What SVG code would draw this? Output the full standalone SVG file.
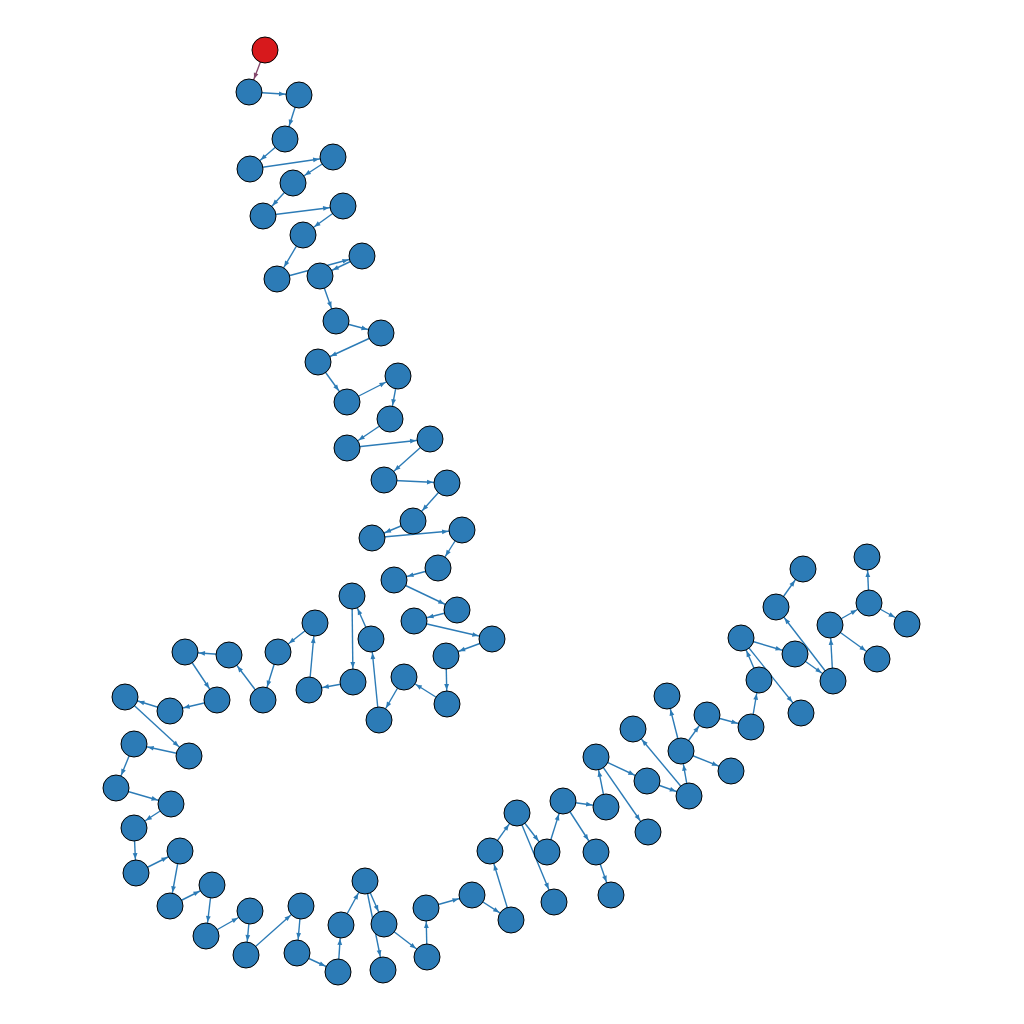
<svg xmlns="http://www.w3.org/2000/svg" width="1024" height="1024" viewBox="0 0 1024 1024">
<style>
.n{fill:#2c7bb6;stroke:#000;stroke-width:1}
.r{fill:#d7191c;stroke:#000;stroke-width:1}
.e{stroke:#2c7bb6;stroke-width:1.4;fill:none;marker-end:url(#ah)}
.er{stroke:#85476b;stroke-width:1.4;fill:none;marker-end:url(#ahr)}
</style>
<defs>
<marker id="ah" markerUnits="userSpaceOnUse" markerWidth="10" markerHeight="10" refX="20" refY="0" orient="auto" overflow="visible"><path d="M0,-2.4 L6,0 L0,2.4 z" fill="#2c7bb6"/></marker>
<marker id="ahr" markerUnits="userSpaceOnUse" markerWidth="10" markerHeight="10" refX="20" refY="0" orient="auto" overflow="visible"><path d="M0,-2.4 L6,0 L0,2.4 z" fill="#85476b"/></marker>
</defs>
<rect width="1024" height="1024" fill="#fff"/>
<g id="edges">
<line class="er" x1="265" y1="50" x2="249" y2="92"/>
<line class="e" x1="249" y1="92" x2="299" y2="95"/>
<line class="e" x1="299" y1="95" x2="285" y2="139"/>
<line class="e" x1="285" y1="139" x2="250" y2="169"/>
<line class="e" x1="250" y1="169" x2="333" y2="157"/>
<line class="e" x1="333" y1="157" x2="293" y2="183"/>
<line class="e" x1="293" y1="183" x2="263" y2="216"/>
<line class="e" x1="263" y1="216" x2="343" y2="206"/>
<line class="e" x1="343" y1="206" x2="303" y2="235"/>
<line class="e" x1="303" y1="235" x2="277" y2="279"/>
<line class="e" x1="277" y1="279" x2="362" y2="256"/>
<line class="e" x1="362" y1="256" x2="320" y2="276"/>
<line class="e" x1="320" y1="276" x2="336" y2="321"/>
<line class="e" x1="336" y1="321" x2="381" y2="333"/>
<line class="e" x1="381" y1="333" x2="318" y2="362"/>
<line class="e" x1="318" y1="362" x2="347" y2="402"/>
<line class="e" x1="347" y1="402" x2="398" y2="376"/>
<line class="e" x1="398" y1="376" x2="390" y2="419"/>
<line class="e" x1="390" y1="419" x2="347" y2="448"/>
<line class="e" x1="347" y1="448" x2="430" y2="439"/>
<line class="e" x1="430" y1="439" x2="384" y2="480"/>
<line class="e" x1="384" y1="480" x2="447" y2="483"/>
<line class="e" x1="447" y1="483" x2="413" y2="521"/>
<line class="e" x1="413" y1="521" x2="372" y2="538"/>
<line class="e" x1="372" y1="538" x2="462" y2="530"/>
<line class="e" x1="462" y1="530" x2="438" y2="568"/>
<line class="e" x1="438" y1="568" x2="394" y2="580"/>
<line class="e" x1="394" y1="580" x2="457" y2="610"/>
<line class="e" x1="457" y1="610" x2="414" y2="621"/>
<line class="e" x1="414" y1="621" x2="492" y2="639"/>
<line class="e" x1="492" y1="639" x2="446" y2="656"/>
<line class="e" x1="446" y1="656" x2="447" y2="704"/>
<line class="e" x1="447" y1="704" x2="404" y2="677"/>
<line class="e" x1="404" y1="677" x2="379" y2="720"/>
<line class="e" x1="379" y1="720" x2="371" y2="639"/>
<line class="e" x1="371" y1="639" x2="352" y2="596"/>
<line class="e" x1="352" y1="596" x2="353" y2="682"/>
<line class="e" x1="353" y1="682" x2="309" y2="690"/>
<line class="e" x1="309" y1="690" x2="315" y2="623"/>
<line class="e" x1="315" y1="623" x2="278" y2="652"/>
<line class="e" x1="278" y1="652" x2="263" y2="700"/>
<line class="e" x1="263" y1="700" x2="229" y2="655"/>
<line class="e" x1="229" y1="655" x2="185" y2="652"/>
<line class="e" x1="185" y1="652" x2="217" y2="700"/>
<line class="e" x1="217" y1="700" x2="170" y2="711"/>
<line class="e" x1="170" y1="711" x2="125" y2="697"/>
<line class="e" x1="125" y1="697" x2="189" y2="756"/>
<line class="e" x1="189" y1="756" x2="134" y2="744"/>
<line class="e" x1="134" y1="744" x2="116" y2="788"/>
<line class="e" x1="116" y1="788" x2="171" y2="804"/>
<line class="e" x1="171" y1="804" x2="134" y2="828"/>
<line class="e" x1="134" y1="828" x2="136" y2="873"/>
<line class="e" x1="136" y1="873" x2="180" y2="851"/>
<line class="e" x1="180" y1="851" x2="170" y2="906"/>
<line class="e" x1="170" y1="906" x2="212" y2="885"/>
<line class="e" x1="212" y1="885" x2="206" y2="936"/>
<line class="e" x1="206" y1="936" x2="250" y2="911"/>
<line class="e" x1="250" y1="911" x2="246" y2="955"/>
<line class="e" x1="246" y1="955" x2="301" y2="906"/>
<line class="e" x1="301" y1="906" x2="297" y2="953"/>
<line class="e" x1="297" y1="953" x2="338" y2="972"/>
<line class="e" x1="338" y1="972" x2="341" y2="925"/>
<line class="e" x1="341" y1="925" x2="365" y2="881"/>
<line class="e" x1="365" y1="881" x2="384" y2="924"/>
<line class="e" x1="365" y1="881" x2="383" y2="970"/>
<line class="e" x1="384" y1="924" x2="427" y2="957"/>
<line class="e" x1="427" y1="957" x2="426" y2="908"/>
<line class="e" x1="426" y1="908" x2="472" y2="895"/>
<line class="e" x1="472" y1="895" x2="511" y2="920"/>
<line class="e" x1="511" y1="920" x2="490" y2="851"/>
<line class="e" x1="490" y1="851" x2="517" y2="813"/>
<line class="e" x1="517" y1="813" x2="547" y2="852"/>
<line class="e" x1="517" y1="813" x2="554" y2="902"/>
<line class="e" x1="547" y1="852" x2="563" y2="801"/>
<line class="e" x1="563" y1="801" x2="606" y2="807"/>
<line class="e" x1="563" y1="801" x2="596" y2="852"/>
<line class="e" x1="596" y1="852" x2="611" y2="895"/>
<line class="e" x1="606" y1="807" x2="596" y2="757"/>
<line class="e" x1="596" y1="757" x2="647" y2="781"/>
<line class="e" x1="596" y1="757" x2="648" y2="832"/>
<line class="e" x1="647" y1="781" x2="689" y2="796"/>
<line class="e" x1="689" y1="796" x2="633" y2="729"/>
<line class="e" x1="689" y1="796" x2="681" y2="751"/>
<line class="e" x1="681" y1="751" x2="667" y2="696"/>
<line class="e" x1="681" y1="751" x2="707" y2="715"/>
<line class="e" x1="681" y1="751" x2="731" y2="771"/>
<line class="e" x1="707" y1="715" x2="751" y2="727"/>
<line class="e" x1="751" y1="727" x2="759" y2="680"/>
<line class="e" x1="759" y1="680" x2="741" y2="638"/>
<line class="e" x1="741" y1="638" x2="795" y2="654"/>
<line class="e" x1="741" y1="638" x2="801" y2="713"/>
<line class="e" x1="795" y1="654" x2="833" y2="681"/>
<line class="e" x1="833" y1="681" x2="776" y2="607"/>
<line class="e" x1="776" y1="607" x2="803" y2="569"/>
<line class="e" x1="833" y1="681" x2="830" y2="625"/>
<line class="e" x1="830" y1="625" x2="869" y2="603"/>
<line class="e" x1="830" y1="625" x2="877" y2="659"/>
<line class="e" x1="869" y1="603" x2="867" y2="557"/>
<line class="e" x1="869" y1="603" x2="907" y2="624"/>
</g>
<g id="n0"><circle class="r" cx="265" cy="50" r="13"/></g>
<g id="n1"><circle class="n" cx="249" cy="92" r="13"/></g>
<g id="n2"><circle class="n" cx="299" cy="95" r="13"/></g>
<g id="n3"><circle class="n" cx="285" cy="139" r="13"/></g>
<g id="n4"><circle class="n" cx="250" cy="169" r="13"/></g>
<g id="n5"><circle class="n" cx="333" cy="157" r="13"/></g>
<g id="n6"><circle class="n" cx="293" cy="183" r="13"/></g>
<g id="n7"><circle class="n" cx="263" cy="216" r="13"/></g>
<g id="n8"><circle class="n" cx="343" cy="206" r="13"/></g>
<g id="n9"><circle class="n" cx="303" cy="235" r="13"/></g>
<g id="n10"><circle class="n" cx="277" cy="279" r="13"/></g>
<g id="n11"><circle class="n" cx="320" cy="276" r="13"/></g>
<g id="n12"><circle class="n" cx="362" cy="256" r="13"/></g>
<g id="n13"><circle class="n" cx="336" cy="321" r="13"/></g>
<g id="n14"><circle class="n" cx="381" cy="333" r="13"/></g>
<g id="n15"><circle class="n" cx="318" cy="362" r="13"/></g>
<g id="n16"><circle class="n" cx="347" cy="402" r="13"/></g>
<g id="n17"><circle class="n" cx="398" cy="376" r="13"/></g>
<g id="n18"><circle class="n" cx="390" cy="419" r="13"/></g>
<g id="n19"><circle class="n" cx="347" cy="448" r="13"/></g>
<g id="n20"><circle class="n" cx="430" cy="439" r="13"/></g>
<g id="n21"><circle class="n" cx="384" cy="480" r="13"/></g>
<g id="n22"><circle class="n" cx="447" cy="483" r="13"/></g>
<g id="n23"><circle class="n" cx="413" cy="521" r="13"/></g>
<g id="n24"><circle class="n" cx="372" cy="538" r="13"/></g>
<g id="n25"><circle class="n" cx="462" cy="530" r="13"/></g>
<g id="n26"><circle class="n" cx="438" cy="568" r="13"/></g>
<g id="n27"><circle class="n" cx="394" cy="580" r="13"/></g>
<g id="n28"><circle class="n" cx="457" cy="610" r="13"/></g>
<g id="n29"><circle class="n" cx="414" cy="621" r="13"/></g>
<g id="n30"><circle class="n" cx="492" cy="639" r="13"/></g>
<g id="n31"><circle class="n" cx="446" cy="656" r="13"/></g>
<g id="n32"><circle class="n" cx="447" cy="704" r="13"/></g>
<g id="n33"><circle class="n" cx="404" cy="677" r="13"/></g>
<g id="n34"><circle class="n" cx="379" cy="720" r="13"/></g>
<g id="n35"><circle class="n" cx="371" cy="639" r="13"/></g>
<g id="n36"><circle class="n" cx="352" cy="596" r="13"/></g>
<g id="n37"><circle class="n" cx="353" cy="682" r="13"/></g>
<g id="n38"><circle class="n" cx="309" cy="690" r="13"/></g>
<g id="n39"><circle class="n" cx="315" cy="623" r="13"/></g>
<g id="n40"><circle class="n" cx="278" cy="652" r="13"/></g>
<g id="n41"><circle class="n" cx="263" cy="700" r="13"/></g>
<g id="n42"><circle class="n" cx="229" cy="655" r="13"/></g>
<g id="n43"><circle class="n" cx="185" cy="652" r="13"/></g>
<g id="n44"><circle class="n" cx="217" cy="700" r="13"/></g>
<g id="n45"><circle class="n" cx="170" cy="711" r="13"/></g>
<g id="n46"><circle class="n" cx="125" cy="697" r="13"/></g>
<g id="n47"><circle class="n" cx="189" cy="756" r="13"/></g>
<g id="n48"><circle class="n" cx="134" cy="744" r="13"/></g>
<g id="n49"><circle class="n" cx="116" cy="788" r="13"/></g>
<g id="n50"><circle class="n" cx="171" cy="804" r="13"/></g>
<g id="n51"><circle class="n" cx="134" cy="828" r="13"/></g>
<g id="n52"><circle class="n" cx="136" cy="873" r="13"/></g>
<g id="n53"><circle class="n" cx="180" cy="851" r="13"/></g>
<g id="n54"><circle class="n" cx="170" cy="906" r="13"/></g>
<g id="n55"><circle class="n" cx="212" cy="885" r="13"/></g>
<g id="n56"><circle class="n" cx="206" cy="936" r="13"/></g>
<g id="n57"><circle class="n" cx="250" cy="911" r="13"/></g>
<g id="n58"><circle class="n" cx="246" cy="955" r="13"/></g>
<g id="n59"><circle class="n" cx="301" cy="906" r="13"/></g>
<g id="n60"><circle class="n" cx="297" cy="953" r="13"/></g>
<g id="n61"><circle class="n" cx="338" cy="972" r="13"/></g>
<g id="n62"><circle class="n" cx="341" cy="925" r="13"/></g>
<g id="n63"><circle class="n" cx="365" cy="881" r="13"/></g>
<g id="n64"><circle class="n" cx="384" cy="924" r="13"/></g>
<g id="n65"><circle class="n" cx="383" cy="970" r="13"/></g>
<g id="n66"><circle class="n" cx="427" cy="957" r="13"/></g>
<g id="n67"><circle class="n" cx="426" cy="908" r="13"/></g>
<g id="n68"><circle class="n" cx="472" cy="895" r="13"/></g>
<g id="n69"><circle class="n" cx="511" cy="920" r="13"/></g>
<g id="n70"><circle class="n" cx="490" cy="851" r="13"/></g>
<g id="n71"><circle class="n" cx="517" cy="813" r="13"/></g>
<g id="n72"><circle class="n" cx="547" cy="852" r="13"/></g>
<g id="n73"><circle class="n" cx="554" cy="902" r="13"/></g>
<g id="n74"><circle class="n" cx="563" cy="801" r="13"/></g>
<g id="n75"><circle class="n" cx="606" cy="807" r="13"/></g>
<g id="n76"><circle class="n" cx="596" cy="852" r="13"/></g>
<g id="n77"><circle class="n" cx="611" cy="895" r="13"/></g>
<g id="n78"><circle class="n" cx="596" cy="757" r="13"/></g>
<g id="n79"><circle class="n" cx="647" cy="781" r="13"/></g>
<g id="n80"><circle class="n" cx="648" cy="832" r="13"/></g>
<g id="n81"><circle class="n" cx="633" cy="729" r="13"/></g>
<g id="n82"><circle class="n" cx="689" cy="796" r="13"/></g>
<g id="n83"><circle class="n" cx="681" cy="751" r="13"/></g>
<g id="n84"><circle class="n" cx="667" cy="696" r="13"/></g>
<g id="n85"><circle class="n" cx="707" cy="715" r="13"/></g>
<g id="n86"><circle class="n" cx="751" cy="727" r="13"/></g>
<g id="n87"><circle class="n" cx="731" cy="771" r="13"/></g>
<g id="n88"><circle class="n" cx="759" cy="680" r="13"/></g>
<g id="n89"><circle class="n" cx="741" cy="638" r="13"/></g>
<g id="n90"><circle class="n" cx="795" cy="654" r="13"/></g>
<g id="n91"><circle class="n" cx="801" cy="713" r="13"/></g>
<g id="n92"><circle class="n" cx="776" cy="607" r="13"/></g>
<g id="n93"><circle class="n" cx="803" cy="569" r="13"/></g>
<g id="n94"><circle class="n" cx="833" cy="681" r="13"/></g>
<g id="n95"><circle class="n" cx="830" cy="625" r="13"/></g>
<g id="n96"><circle class="n" cx="869" cy="603" r="13"/></g>
<g id="n97"><circle class="n" cx="867" cy="557" r="13"/></g>
<g id="n98"><circle class="n" cx="907" cy="624" r="13"/></g>
<g id="n99"><circle class="n" cx="877" cy="659" r="13"/></g>
</svg>
